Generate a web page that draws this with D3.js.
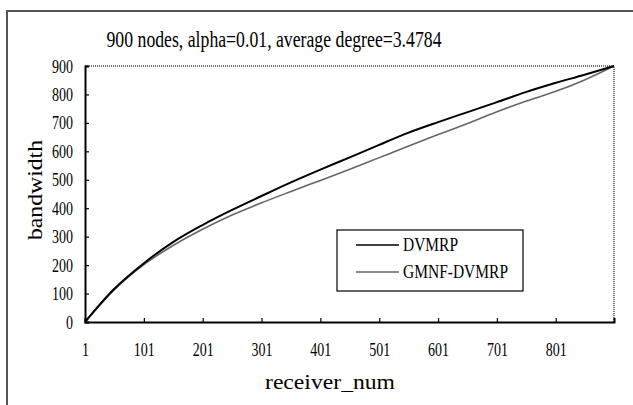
<!DOCTYPE html>
<html>
<head>
<meta charset="utf-8">
<script src="https://cdn.jsdelivr.net/npm/d3@7"></script>
<style>
  body { margin: 0; background: #fff; }
  svg { display: block; font-family: "Liberation Serif", "DejaVu Serif", serif; }
</style>
</head>
<body>
<svg id="chart" width="633" height="405"></svg>
<script>
// data
var receiverNum = [1, 50, 100, 150, 200, 250, 300, 350, 400, 450, 500, 550, 600, 650, 700, 750, 800, 850, 900];
var dvmrp = [0, 115, 205, 280, 340, 393, 442, 490, 535, 578, 622, 665, 702, 737, 772, 808, 840, 869, 900];
var gmnfDvmrp = [0, 112, 200, 268, 325, 375, 418, 458, 497, 536, 577, 618, 658, 697, 738, 776, 810, 851, 900];
var xTicks = [1, 101, 201, 301, 401, 501, 601, 701, 801];
var yTicks = [0, 100, 200, 300, 400, 500, 600, 700, 800, 900];
var seriesNames = ["DVMRP", "GMNF-DVMRP"];

var svg = d3.select("#chart");

// outer frame of the scanned figure
svg.append("rect")
  .attr("x", 7).attr("y", 11)
  .attr("width", 640).attr("height", 420)
  .attr("fill", "none")
  .attr("stroke", "#555")
  .attr("stroke-width", 2);

var plotLeft = 85, plotRight = 614, plotTop = 66, plotBottom = 322;

var x = d3.scaleLinear().domain([1, 900]).range([plotLeft, plotRight]);
var y = d3.scaleLinear().domain([0, 900]).range([plotBottom, plotTop]);

// dotted top / right frame of the plot
svg.append("path")
  .attr("d", `M${plotLeft},${plotTop}H${plotRight}V${plotBottom}`)
  .attr("fill", "none")
  .attr("stroke", "#444")
  .attr("stroke-width", 1.5)
  .attr("stroke-dasharray", "1,1");

// axes
var xAxis = d3.axisBottom(x).tickValues(xTicks).tickSize(-4).tickPadding(21).tickFormat(d3.format("d"));
var yAxis = d3.axisLeft(y).tickValues(yTicks).tickSize(-4).tickPadding(12).tickFormat(d3.format("d"));

var gx = svg.append("g").attr("transform", `translate(0,${plotBottom})`).call(xAxis);
var gy = svg.append("g").attr("transform", `translate(${plotLeft},0)`).call(yAxis);

[gx, gy].forEach(g => {
  g.attr("font-family", null);
  g.select(".domain").attr("stroke", "#000").attr("stroke-width", 2);
  g.selectAll(".tick line").attr("stroke", "#000").attr("stroke-width", 1.2);
  g.selectAll("text")
    .attr("fill", "#000")
    .style("font-family", "Liberation Serif")
    .style("font-size", "19px")
    .attr("textLength", d => String(d).length * 7)
    .attr("lengthAdjust", "spacingAndGlyphs");
});

// lines
var line = d3.line()
  .x((d, i) => x(receiverNum[i]))
  .y(d => y(d))
  .curve(d3.curveMonotoneX);

svg.append("path")
  .datum(gmnfDvmrp)
  .attr("d", line)
  .attr("fill", "none")
  .attr("stroke", "#666")
  .attr("stroke-width", 1.6);

svg.append("path")
  .datum(dvmrp)
  .attr("d", line)
  .attr("fill", "none")
  .attr("stroke", "#000")
  .attr("stroke-width", 2);

// title
svg.append("text")
  .attr("x", 274).attr("y", 47)
  .attr("text-anchor", "middle")
  .attr("textLength", 335)
  .attr("lengthAdjust", "spacingAndGlyphs")
  .style("font-size", "23px")
  .text("900 nodes, alpha=0.01, average degree=3.4784");

// axis titles
svg.append("text")
  .attr("transform", "translate(42,190) rotate(-90)")
  .attr("text-anchor", "middle")
  .attr("textLength", 100)
  .attr("lengthAdjust", "spacingAndGlyphs")
  .style("font-size", "22px")
  .text("bandwidth");

svg.append("text")
  .attr("x", 330).attr("y", 389)
  .attr("text-anchor", "middle")
  .attr("textLength", 130)
  .attr("lengthAdjust", "spacingAndGlyphs")
  .style("font-size", "22px")
  .text("receiver_num");

// legend
var legend = svg.append("g");
legend.append("rect")
  .attr("x", 337).attr("y", 230)
  .attr("width", 186).attr("height", 61)
  .attr("fill", "#fff")
  .attr("stroke", "#000")
  .attr("stroke-width", 1.2);

var legColors = ["#000", "#666"];
seriesNames.forEach((name, i) => {
  var ly = 245 + i * 27;
  legend.append("line")
    .attr("x1", 356).attr("x2", 399)
    .attr("y1", ly).attr("y2", ly)
    .attr("stroke", legColors[i])
    .attr("stroke-width", 1.5);
  legend.append("text")
    .attr("x", 403).attr("y", ly + 6)
    .attr("textLength", i === 0 ? 55 : 105)
    .attr("lengthAdjust", "spacingAndGlyphs")
    .style("font-size", "19px")
    .text(name);
});
</script>
</body>
</html>
